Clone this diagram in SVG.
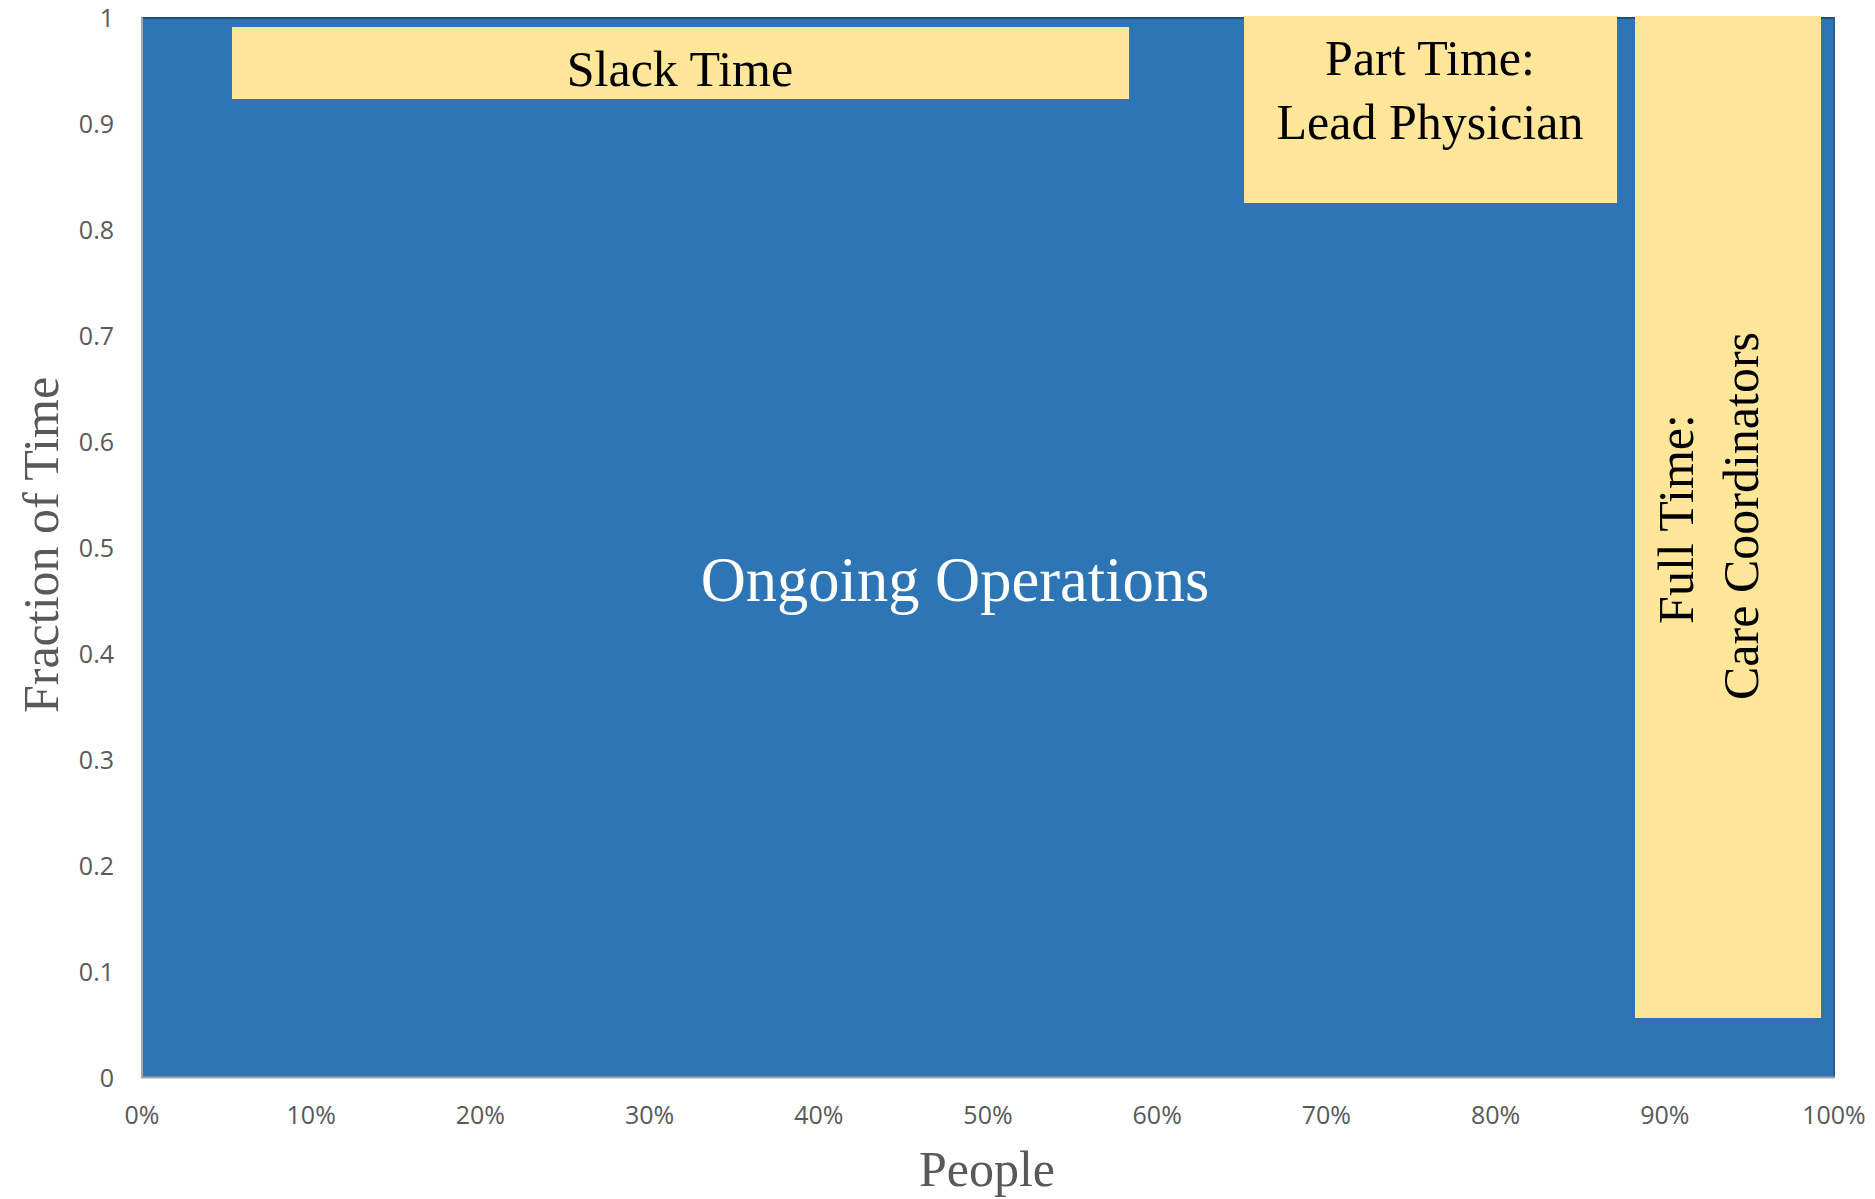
<svg xmlns="http://www.w3.org/2000/svg" width="1875" height="1199" viewBox="0 0 1875 1199">
<style>
.tick{font-family:"Open Sans","Liberation Sans",sans-serif;font-size:25px;fill:#595959}
.ytick{text-anchor:end}
.xtick{text-anchor:middle}
.title{font-family:"Liberation Serif",serif;font-size:50px;fill:#595959;text-anchor:middle}
.lbl{font-family:"Liberation Serif",serif;font-size:50px;fill:#000;text-anchor:middle}
.box{fill:#FFE699}
</style>
<rect width="1875" height="1199" fill="#fff"/>
<g id="ongoing-operations">
<rect x="142" y="17" width="1692" height="1060" fill="#2E75B6"/>
<line x1="142" y1="18" x2="1834" y2="18" stroke="#1F4E79" stroke-width="2"/>
<line x1="1834" y1="17" x2="1834" y2="1077" stroke="#245F96" stroke-width="2"/>
<text x="955" y="601" font-family="Liberation Serif, serif" font-size="62.5" fill="#fff" text-anchor="middle">Ongoing Operations</text>
</g>
<g id="axes">
<line x1="142" y1="17" x2="142" y2="1078" stroke="#A6A6A6" stroke-width="2"/>
<line x1="141" y1="1077.5" x2="1835" y2="1077.5" stroke="#A6A6A6" stroke-width="2"/>
</g>
<g id="slack-time">
<rect class="box" x="232" y="27" width="897" height="72"/>
<text class="lbl" x="680" y="86">Slack Time</text>
</g>
<g id="part-time">
<rect class="box" x="1244" y="16" width="373" height="187"/>
<text class="lbl" x="1430" y="75" font-size="51">Part Time:</text>
<text class="lbl" x="1430" y="139" font-size="51">Lead Physician</text>
</g>
<g id="full-time">
<rect class="box" x="1635" y="16" width="186" height="1002"/>
<text class="lbl" transform="translate(1693,519) rotate(-90)" font-size="52">Full Time:</text>
<text class="lbl" transform="translate(1758,516) rotate(-90)" font-size="53">Care Coordinators</text>
</g>
<g id="y-ticks">
<text class="tick ytick" x="114" y="1087">0</text>
<text class="tick ytick" x="114" y="981">0.1</text>
<text class="tick ytick" x="114" y="875">0.2</text>
<text class="tick ytick" x="114" y="769">0.3</text>
<text class="tick ytick" x="114" y="663">0.4</text>
<text class="tick ytick" x="114" y="557">0.5</text>
<text class="tick ytick" x="114" y="451">0.6</text>
<text class="tick ytick" x="114" y="345">0.7</text>
<text class="tick ytick" x="114" y="239">0.8</text>
<text class="tick ytick" x="114" y="133">0.9</text>
<text class="tick ytick" x="114" y="27">1</text>
</g>
<g id="x-ticks">
<text class="tick xtick" x="142" y="1124">0%</text>
<text class="tick xtick" x="311.2" y="1124">10%</text>
<text class="tick xtick" x="480.4" y="1124">20%</text>
<text class="tick xtick" x="649.6" y="1124">30%</text>
<text class="tick xtick" x="818.8" y="1124">40%</text>
<text class="tick xtick" x="988" y="1124">50%</text>
<text class="tick xtick" x="1157.2" y="1124">60%</text>
<text class="tick xtick" x="1326.4" y="1124">70%</text>
<text class="tick xtick" x="1495.6" y="1124">80%</text>
<text class="tick xtick" x="1664.8" y="1124">90%</text>
<text class="tick xtick" x="1834" y="1124">100%</text>
</g>
<g id="axis-titles">
<text class="title" x="987" y="1186" font-size="51">People</text>
<text class="title" transform="translate(58,545) rotate(-90)" font-size="60">Fraction of Time</text>
</g>
<g id="connectors"/>
</svg>
